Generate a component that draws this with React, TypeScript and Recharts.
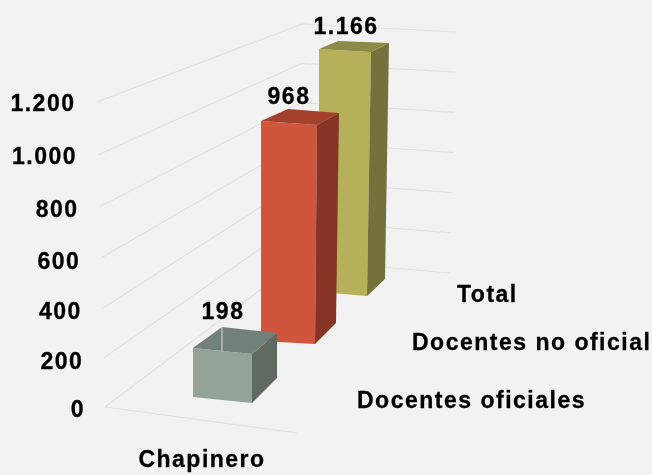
import React from "react";
import { BarChart, Bar, XAxis, YAxis, CartesianGrid } from "recharts";

const categories = ["Chapinero"];
const seriesNames = ["Docentes oficiales", "Docentes no oficial", "Total"];
const docentesOficiales = [198];
const docentesNoOficial = [968];
const total = [1166];
const yTicks = [0, 200, 400, 600, 800, 1000, 1200];

const rows = categories.map((c, i) => ({
  category: c,
  oficiales: docentesOficiales[i],
  noOficial: docentesNoOficial[i],
  total: total[i],
}));

const fmt = (v: number) => String(v).replace(/\B(?=(\d{3})+(?!\d))/g, ".");
const FONT = "'Liberation Sans', Arial, sans-serif";
const textStyle = { fontFamily: FONT, fontWeight: 700, fontSize: 23, letterSpacing: 1.5, fill: "#000", stroke: "#000", strokeWidth: 0.3 };

const PLOT_TOP = 102;
const PLOT_H = 305;

type Geo = {
  shift: number; off: number; k: number; w: number; slopeT: number; slopeB: number; taper: number;
  dxT: number; dyT: number; dxB: number; dyB: number; blx: number; bly: number;
  front: string; side: string; top: string; inner?: string;
  lx: number; ly: number; nameX: number; nameY: number;
};

const grey: Geo = { shift: -120, off: -10, k: 0.974, w: 59, slopeT: 6, slopeB: 6, taper: 0, dxT: 25, dyT: -21, dxB: 25, dyB: -25, blx: 29, bly: -21, front: "#93a398", side: "#5f6a61", top: "#72807a", inner: "#b9bfba", lx: 30, ly: -29, nameX: 357, nameY: 408 };
const red: Geo = { shift: 8, off: -66, k: 0.894, w: 56, slopeT: 4, slopeB: 3, taper: 2, dxT: 22, dyT: -12, dxB: 21, dyB: -21, blx: 27, bly: -12, front: "#cf553c", side: "#863425", top: "#a4412c", lx: 28, ly: -17, nameX: 412, nameY: 350 };
const yellow: Geo = { shift: 126, off: -115, k: 0.82, w: 52, slopeT: 3, slopeB: 4, taper: 4, dxT: 18, dyT: -9, dxB: 18, dyB: -17, blx: 19, bly: -8, front: "#b6b05a", side: "#74723a", top: "#8c8a47", lx: 27, ly: -15, nameX: 457, nameY: 302 };

const makeShape = (g: Geo, name: string) => (p: any) => {
  const x = p.x + g.shift;
  const base = p.y + p.height + g.off;
  const kh = p.height * g.k;
  const flb = [x, base];
  const flt = [x, base - kh];
  const frt = [x + g.w, flt[1] + g.slopeT];
  const frb = [x + g.w - g.taper, base + g.slopeB];
  const brt = [frt[0] + g.dxT, frt[1] + g.dyT];
  const brb = [frb[0] + g.dxB, frb[1] + g.dyB];
  const blt = [x + g.blx, flt[1] + g.bly];
  const pts = (a: number[][]) => a.map((q) => q.join(",")).join(" ");
  return (
    <g>
      <polygon points={pts([flt, frt, frb, flb])} fill={g.front} />
      <polygon points={pts([frt, brt, brb, frb])} fill={g.side} />
      <polygon points={pts([flt, blt, brt, frt])} fill={g.top} />
      {g.inner ? <line x1={blt[0]} y1={blt[1]} x2={blt[0]} y2={blt[1] + 25} stroke={g.inner} strokeWidth={1.5} /> : null}
      <text x={x + g.lx} y={flt[1] + g.ly} textAnchor="middle" style={textStyle}>{fmt(p.value)}</text>
      <text x={g.nameX} y={g.nameY} style={textStyle}>{name}</text>
    </g>
  );
};

const GridLine = (p: any) => {
  const y = p.y1 as number;
  const t = (PLOT_TOP + PLOT_H - y) / PLOT_H;
  const lx = 105 - 8 * t;
  const ly = y + 14 * t * (1 - t);
  const bx = 300 + 2 * t;
  const by = y - 147 + 69 * t;
  const rx = 450 + 7 * t;
  const ry = y - 134 + 64 * t;
  return (
    <g key={p.key}>
      <polyline points={`${lx},${ly} ${bx},${by} ${rx},${ry}`} fill="none" stroke="#e2e2e2" strokeWidth={1.2} />
      {t < 0.01 ? <line x1={lx} y1={ly} x2={lx + 192} y2={ly + 26} stroke="#e2e2e2" strokeWidth={1.2} /> : null}
    </g>
  );
};

const YTick = (p: any) => {
  const v = p.payload.value as number;
  const t = v / 1200;
  return (
    <text x={85 - 9.5 * t} y={p.y + 10 - 1.5 * t + 20 * t * (1 - t)} textAnchor="end" style={textStyle}>{fmt(v)}</text>
  );
};

const XTick = (p: any) => (
  <text x={p.x - 79} y={467} textAnchor="middle" style={textStyle}>{p.payload.value}</text>
);

export default function App() {
  return (
    <div style={{ position: "fixed", left: 0, top: 0, width: 652, height: 475, background: "#f2f2f2", overflow: "hidden", filter: "blur(0.4px)" }}>
      <BarChart
        width={652}
        height={475}
        data={rows}
        barSize={56}
        barGap={4}
        margin={{ top: PLOT_TOP, right: 190, bottom: 0, left: 0 }}
      >
        <CartesianGrid vertical={false} horizontal={GridLine} horizontalValues={yTicks} />
        <XAxis dataKey="category" axisLine={false} tickLine={false} tick={<XTick />} height={68} />
        <YAxis domain={[0, 1200]} ticks={yTicks} axisLine={false} tickLine={false} tick={<YTick />} width={100} interval={0} />
        <Bar dataKey="total" name={seriesNames[2]} isAnimationActive={false} shape={makeShape(yellow, seriesNames[2])} />
        <Bar dataKey="noOficial" name={seriesNames[1]} isAnimationActive={false} shape={makeShape(red, seriesNames[1])} />
        <Bar dataKey="oficiales" name={seriesNames[0]} isAnimationActive={false} shape={makeShape(grey, seriesNames[0])} />
      </BarChart>
    </div>
  );
}
